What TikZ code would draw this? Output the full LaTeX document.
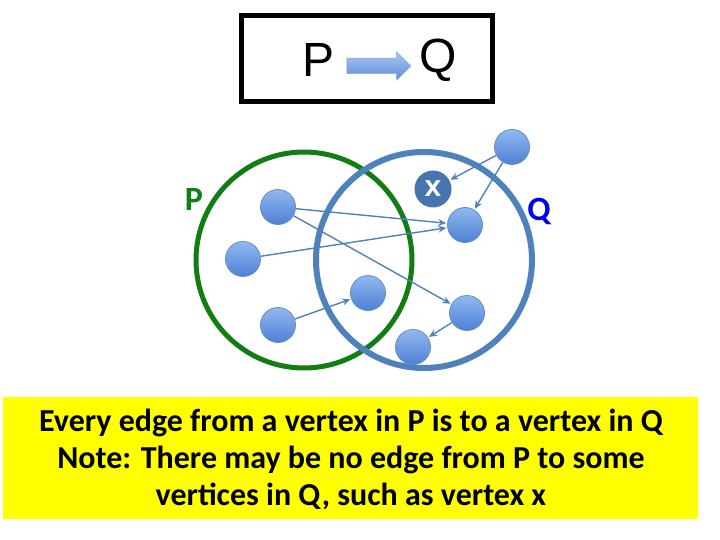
\documentclass[tikz,border=0pt]{standalone}
\usepackage{fontspec}
\setmainfont{Carlito}
\newfontfamily\headfont{Liberation Sans}
\usetikzlibrary{arrows.meta,shapes.arrows}
\definecolor{steel}{RGB}{79,129,189}
\definecolor{setgreen}{RGB}{18,125,18}
\definecolor{xblue}{RGB}{72,116,176}
\definecolor{nodetop}{RGB}{145,184,240}
\definecolor{nodebot}{RGB}{78,128,212}
\definecolor{notebg}{RGB}{255,255,0}
\begin{document}
\begin{tikzpicture}[x=1pt,y=-1pt,
  vertex/.style={circle,minimum size=35pt,inner sep=0pt,draw=steel!90!white,line width=0.8pt,
    top color=nodetop,bottom color=nodebot},
  xvertex/.style={circle,minimum size=37pt,inner sep=0pt,fill=xblue,text=white,
    font=\headfont\fontsize{30}{30}\selectfont\bfseries},
  edge/.style={draw=steel,line width=1.4pt,-{Stealth[length=8pt,width=7pt]},shorten >=1pt},
  setring/.style={circle,minimum size=216pt,inner sep=0pt},
  setlabel/.style={font=\fontsize{34}{34}\selectfont\bfseries},
  headtext/.style={font=\headfont\fontsize{48}{48}\selectfont},
]
\useasboundingbox (0,0) rectangle (720,540);

% header box with the implication
\node[draw=black,line width=5pt,minimum width=251pt,minimum height=86pt,inner sep=0pt] (head) at (366.5,59) {};
\node[headtext] (hp) at (319,60) {P};
\node[headtext] (hq) at (438,60) {Q};
\node[single arrow,inner sep=7.5pt,single arrow head extend=6.5pt,minimum height=64pt,
  draw=steel!70!white,line width=0.5pt,top color=nodetop!80!white,bottom color=nodebot!90!white]
  (imp) at (375,66) {};

% the two vertex sets
\node[setring,draw=setgreen,line width=5pt] (setP) at (304,260) {};
\node[setring,draw=steel,line width=6pt] (setQ) at (424,260) {};
\node[setlabel,text=setgreen] (lblP) at (194,199) {P};
\node[setlabel,text={rgb,255:red,0;green,0;blue,235}] (lblQ) at (539,211) {Q};

% vertices
\node[vertex] (top) at (512,147) {};
\node[xvertex] (x) at (433,189) {\raisebox{-5pt}{x}};
\node[vertex] (a1) at (278,207) {};
\node[vertex] (t1) at (465,225) {};
\node[vertex] (a2) at (243,259) {};
\node[vertex] (a3) at (368,293) {};
\node[vertex] (a4) at (278,325) {};
\node[vertex] (t2) at (467,313) {};
\node[vertex] (t3) at (413,347) {};

% directed edges
\draw[edge] (top) -- (x);
\draw[edge] (top) -- (t1);
\draw[edge] (a1) -- (t1);
\draw[edge] (a1) -- (t2);
\draw[edge] (a2) -- (t1);
\draw[edge] (a4) -- (a3);
\draw[edge] (t2) -- (t3);

% note
\node[fill=notebg,minimum width=695pt,minimum height=122pt,inner sep=0pt] (note) at (350.5,458) {};
\node[align=center,font=\fontsize{32}{37}\selectfont\bfseries] (notetext) at (351,459)
  {Every edge from a vertex in P is to a vertex in Q\\
   Note: There may be no edge from P to some\\
   vertices in Q, such as vertex x};
\end{tikzpicture}
\end{document}
